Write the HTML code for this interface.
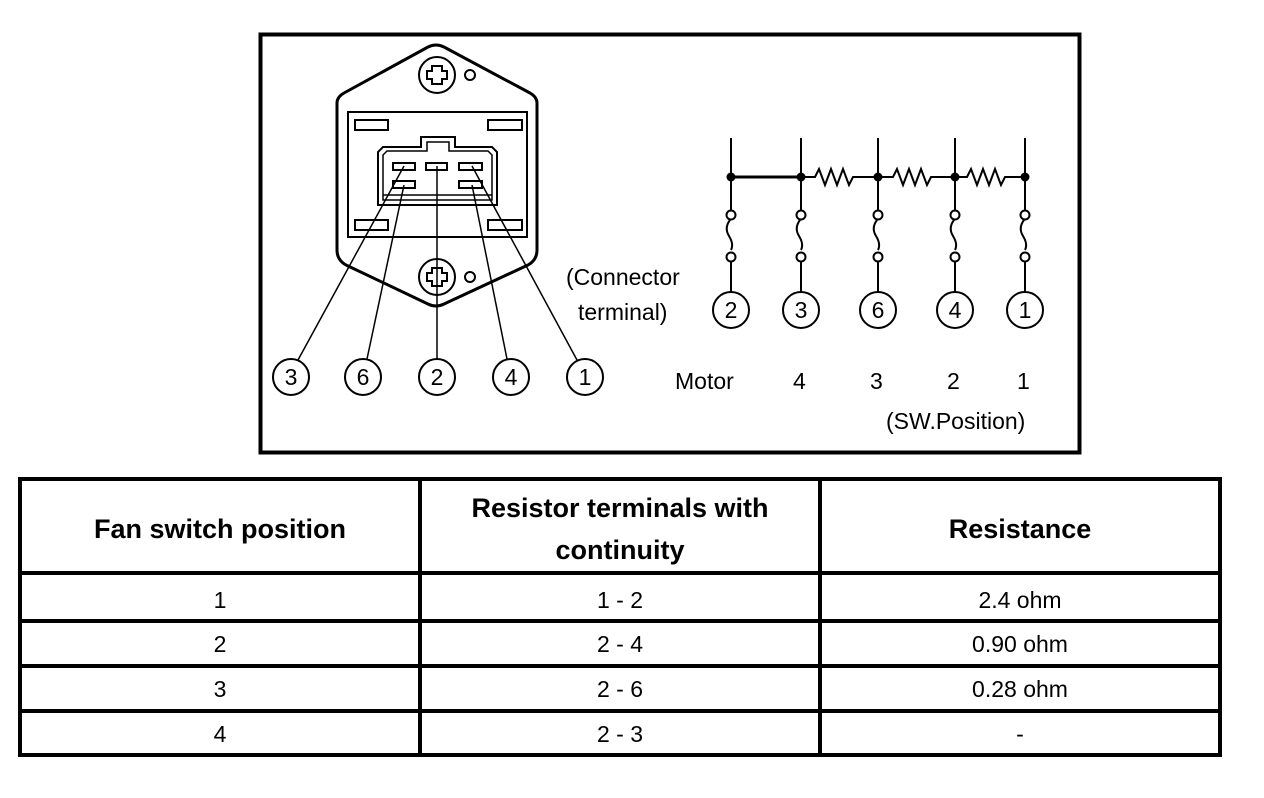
<!DOCTYPE html>
<html><head><meta charset="utf-8"><style>
html,body{margin:0;padding:0;background:#fff;}
svg{display:block;}
text{font-family:"Liberation Sans",Arial,Helvetica,sans-serif;fill:#000;}
</style></head><body>
<svg width="1264" height="798" viewBox="0 0 1264 798" xmlns="http://www.w3.org/2000/svg" font-family="Liberation Sans, Arial, sans-serif">
<rect x="260.5" y="34.5" width="819" height="418" fill="none" stroke="#000" stroke-width="4"/>
<path d="M337,103 Q337,97 344,93 L428,47 Q436,43 444,47 L530,93 Q537,97 537,103 L537,250 Q537,260 528,265 L444,304 Q436,308 428,304 L346,265 Q337,260 337,250 Z" fill="none" stroke="#000" stroke-width="3"/>
<rect x="348" y="112" width="179" height="125" fill="none" stroke="#000" stroke-width="2"/>
<rect x="355" y="120" width="33" height="10" fill="none" stroke="#000" stroke-width="2"/>
<rect x="488" y="120" width="34" height="10" fill="none" stroke="#000" stroke-width="2"/>
<rect x="355" y="220" width="33" height="10" fill="none" stroke="#000" stroke-width="2"/>
<rect x="488" y="220" width="34" height="10" fill="none" stroke="#000" stroke-width="2"/>
<path d="M378,205 L378,152 L383,147 L421,147 L421,137 L455,137 L455,147 L492,147 L497,152 L497,205 Z" fill="#fff" stroke="#000" stroke-width="2"/>
<path d="M383,200 L383,155 L387,151 L427,151 L427,142 L449,142 L449,151 L488,151 L492,155 L492,200 Z" fill="none" stroke="#000" stroke-width="1.5"/>
<line x1="383" y1="195" x2="492" y2="195" stroke="#000" stroke-width="1.5"/>
<rect x="393" y="163" width="22" height="7" fill="none" stroke="#000" stroke-width="2"/>
<rect x="426" y="163" width="21" height="7" fill="none" stroke="#000" stroke-width="2"/>
<rect x="459" y="163" width="23" height="7" fill="none" stroke="#000" stroke-width="2"/>
<rect x="393" y="181" width="22" height="7" fill="none" stroke="#000" stroke-width="2"/>
<rect x="459" y="181" width="23" height="7" fill="none" stroke="#000" stroke-width="2"/>
<g stroke="#000" stroke-width="2" fill="#fff">
<circle cx="437" cy="75" r="18"/><circle cx="470" cy="75" r="5"/>
<path d="M432,66 h10 v5 h5 v8 h-5 v5 h-10 v-5 h-5 v-8 h5 z"/>
<circle cx="437" cy="277" r="18"/><circle cx="470" cy="277" r="5"/>
<path d="M432,268 h10 v5 h5 v8 h-5 v5 h-10 v-5 h-5 v-8 h5 z"/>
</g>
<g stroke="#000" stroke-width="1.5">
<line x1="404" y1="166" x2="298" y2="360"/>
<line x1="404" y1="185" x2="367" y2="359"/>
<line x1="437" y1="166" x2="437" y2="359"/>
<line x1="472" y1="185" x2="507" y2="359"/>
<line x1="472" y1="166" x2="577" y2="360"/>
</g>
<g stroke="#000" stroke-width="2" fill="none">
<circle cx="291" cy="377" r="18"/><circle cx="363" cy="377" r="18"/><circle cx="437" cy="377" r="18"/><circle cx="511" cy="377" r="18"/><circle cx="585" cy="377" r="18"/>
</g>
<g font-size="23" text-anchor="middle">
<text x="291" y="385">3</text><text x="363" y="385">6</text><text x="437" y="385">2</text><text x="511" y="385">4</text><text x="585" y="385">1</text>
</g>
<g stroke="#000" stroke-width="2" fill="none">
<line x1="731" y1="177" x2="801" y2="177" stroke-width="3"/>
<path d="M801,177 h14 l4,-8 l6,16 l6,-16 l6,16 l6,-16 l6,16 l4,-8 L878,177"/>
<path d="M878,177 h15 l4,-8 l6,16 l6,-16 l6,16 l6,-16 l6,16 l4,-8 L955,177"/>
<path d="M955,177 h12 l4,-8 l6,16 l6,-16 l6,16 l6,-16 l6,16 l4,-8 L1025,177"/>
</g>
<g stroke="#000" stroke-width="2" fill="#fff">
<g id="br">
<line x1="731" y1="138" x2="731" y2="210"/>
<circle cx="731" cy="215" r="4.5"/>
<path d="M730,220 q-6,8 -1,16 q5,8 2,14" fill="none"/>
<circle cx="731" cy="257" r="4.5"/>
<line x1="731" y1="262" x2="731" y2="292"/>
<circle cx="731" cy="310" r="18" fill="none"/>
</g>
<use href="#br" x="70"/><use href="#br" x="147"/><use href="#br" x="224"/><use href="#br" x="294"/>
</g>
<g fill="#000">
<circle cx="731" cy="177" r="4.5"/><circle cx="801" cy="177" r="4.5"/><circle cx="878" cy="177" r="4.5"/><circle cx="955" cy="177" r="4.5"/><circle cx="1025" cy="177" r="4.5"/>
</g>
<g font-size="23" text-anchor="middle">
<text x="731" y="318">2</text><text x="801" y="318">3</text><text x="878" y="318">6</text><text x="955" y="318">4</text><text x="1025" y="318">1</text>
</g>
<g font-size="23">
<text x="566" y="285">(Connector</text>
<text x="578" y="320">terminal)</text>
<text x="675" y="389">Motor</text>
<text x="793" y="389">4</text><text x="870" y="389">3</text><text x="947" y="389">2</text><text x="1017" y="389">1</text>
<text x="886" y="429">(SW.Position)</text>
</g>
<g stroke="#000" stroke-width="4" fill="none">
<rect x="20" y="479" width="1200" height="276"/>
<line x1="20" y1="573" x2="1220" y2="573"/>
<line x1="20" y1="621" x2="1220" y2="621"/>
<line x1="20" y1="666" x2="1220" y2="666"/>
<line x1="20" y1="711" x2="1220" y2="711"/>
<line x1="420" y1="479" x2="420" y2="755"/>
<line x1="820" y1="479" x2="820" y2="755"/>
</g>
<g font-size="27" font-weight="bold" text-anchor="middle">
<text x="220" y="538">Fan switch position</text>
<text x="620" y="517">Resistor terminals with</text>
<text x="620" y="559">continuity</text>
<text x="1020" y="538">Resistance</text>
</g>
<g font-size="23" text-anchor="middle">
<text x="220" y="608">1</text><text x="620" y="608">1 - 2</text><text x="1020" y="608">2.4 ohm</text>
<text x="220" y="652">2</text><text x="620" y="652">2 - 4</text><text x="1020" y="652">0.90 ohm</text>
<text x="220" y="697">3</text><text x="620" y="697">2 - 6</text><text x="1020" y="697">0.28 ohm</text>
<text x="220" y="742">4</text><text x="620" y="742">2 - 3</text><text x="1020" y="742">-</text>
</g>
</svg>
</body></html>
